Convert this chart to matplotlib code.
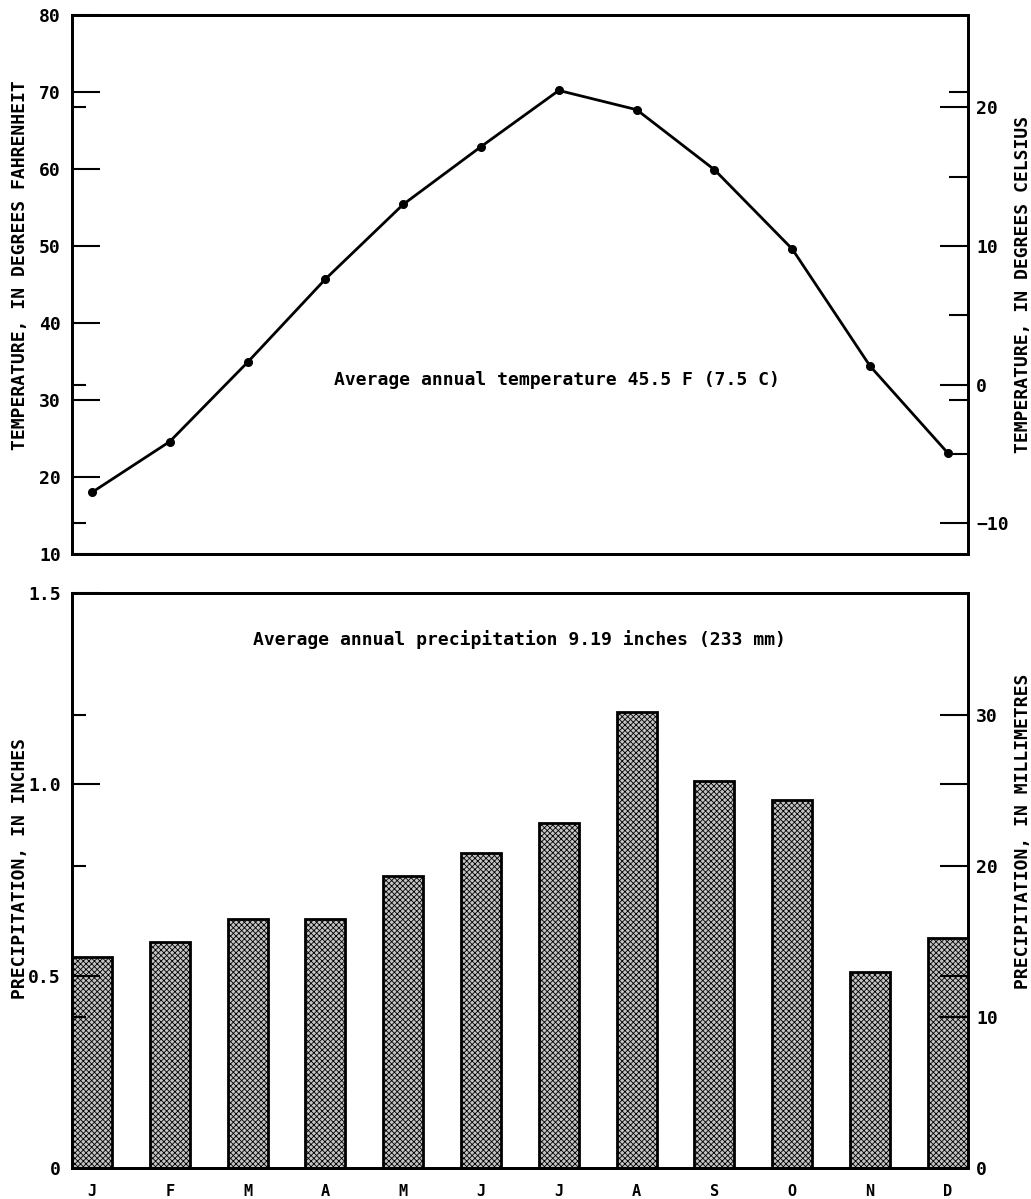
import numpy as np
import matplotlib.pyplot as plt
from matplotlib.ticker import FixedLocator

plt.rcParams['hatch.linewidth'] = 0.6
plt.rcParams['hatch.color'] = '#3a3a3a'

months = ['J', 'F', 'M', 'A', 'M', 'J', 'J', 'A', 'S', 'O', 'N', 'D']
temp_f = [18.0, 24.6, 34.9, 45.7, 55.4, 62.9, 70.2, 67.7, 59.9, 49.6, 34.4, 23.1]
precip_in = [0.55, 0.59, 0.65, 0.65, 0.76, 0.82, 0.90, 1.19, 1.01, 0.96, 0.51, 0.60]

temp_note = 'Average annual temperature 45.5 F (7.5 C)'
precip_note = 'Average annual precipitation 9.19 inches (233 mm)'

f_ticks = [10, 20, 30, 40, 50, 60, 70, 80]
c_ticks = [-10, 0, 10, 20]
c_minor = [-5, 5, 15]
in_ticks = [0, 0.5, 1.0, 1.5]
in_labels = ['0', '0.5', '1.0', '1.5']
mm_ticks = [0, 10, 20, 30]

# monospaced bold to get the wide letter spacing of the original lettering
font = dict(family='DejaVu Sans Mono', weight='bold')
bar_w = 0.515
x = np.arange(len(months))

fig = plt.figure(figsize=(10.31, 11.99), dpi=100)
ax1 = fig.add_axes([0.0698, 0.538, 0.8690, 0.4495])
ax2 = fig.add_axes([0.0698, 0.026, 0.8690, 0.4796])

def f2c(f):
    return (np.asarray(f) - 32) * 5 / 9

def c2f(c):
    return np.asarray(c) * 9 / 5 + 32

# temperature panel
ax1.plot(x, temp_f, color='black', lw=2, marker='o', ms=5.5)
ax1.set_xlim(-bar_w / 2, len(months) - 1 + bar_w / 2)
ax1.set_ylim(10, 80)
ax1.set_xticks([])
ax1.yaxis.set_major_locator(FixedLocator(f_ticks))
ax1.yaxis.set_minor_locator(FixedLocator(c2f(c_ticks)))
ax1.set_yticklabels([str(v) for v in f_ticks], fontsize=13, **font)
ax1.tick_params(axis='y', which='major', direction='in', length=20, width=1.5, pad=8)
ax1.tick_params(axis='y', which='minor', direction='in', length=10, width=1.5)
ax1.set_ylabel('TEMPERATURE, IN DEGREES FAHRENHEIT', fontsize=13, **font)
ax1.yaxis.set_label_coords(-0.048, 0.535)
ax1.text(0.541, 0.323, temp_note, transform=ax1.transAxes, ha='center', va='center',
         fontsize=13, **font)

ax1r = ax1.twinx()
ax1r.set_ylim(f2c(10), f2c(80))
ax1r.yaxis.set_major_locator(FixedLocator(c_ticks))
ax1r.yaxis.set_minor_locator(FixedLocator(list(c_minor) + list(f2c([30, 50, 70]))))
ax1r.set_yticklabels(['\u221210', '0', '10', '20'], fontsize=13, **font)
ax1r.tick_params(axis='y', which='major', direction='in', length=20, width=1.5, pad=6)
ax1r.tick_params(axis='y', which='minor', direction='in', length=14, width=1.5)
ax1r.set_ylabel('TEMPERATURE, IN DEGREES CELSIUS', fontsize=13, **font)
ax1r.yaxis.set_label_coords(1.052, 0.5)

# precipitation panel
ax2.bar(x, precip_in, width=bar_w, facecolor='#c4c4c4', edgecolor='black',
        linewidth=2, hatch='xxxxxx')
ax2.set_xlim(-bar_w / 2, len(months) - 1 + bar_w / 2)
ax2.set_ylim(0, 1.5)
ax2.set_xticks(x)
ax2.set_xticklabels(months, fontsize=11, **font)
ax2.tick_params(axis='x', length=0, pad=12)
ax2.yaxis.set_major_locator(FixedLocator(in_ticks))
ax2.yaxis.set_minor_locator(FixedLocator(np.array(mm_ticks[1:]) / 25.4))
ax2.set_yticklabels(in_labels, fontsize=13, **font)
ax2.tick_params(axis='y', which='major', direction='in', length=20, width=1.5, pad=8)
ax2.tick_params(axis='y', which='minor', direction='in', length=10, width=1.5)
ax2.set_ylabel('PRECIPITATION, IN INCHES', fontsize=13, **font)
ax2.yaxis.set_label_coords(-0.048, 0.52)
ax2.text(0.5, 0.918, precip_note, transform=ax2.transAxes, ha='center', va='center',
         fontsize=13, **font)

ax2r = ax2.twinx()
ax2r.set_ylim(0, 1.5 * 25.4)
ax2r.yaxis.set_major_locator(FixedLocator(mm_ticks))
ax2r.yaxis.set_minor_locator(FixedLocator([0.5 * 25.4, 25.4]))
ax2r.set_yticklabels([str(v) for v in mm_ticks], fontsize=13, **font)
ax2r.tick_params(axis='y', which='major', direction='in', length=20, width=1.5, pad=6)
ax2r.tick_params(axis='y', which='minor', direction='in', length=20, width=1.5)
ax2r.set_ylabel('PRECIPITATION, IN MILLIMETRES', fontsize=13, **font)
ax2r.yaxis.set_label_coords(1.052, 0.585)

for ax in (ax1, ax1r, ax2, ax2r):
    for s in ax.spines.values():
        s.set_linewidth(2)

fig.savefig('out.png', dpi=100)
